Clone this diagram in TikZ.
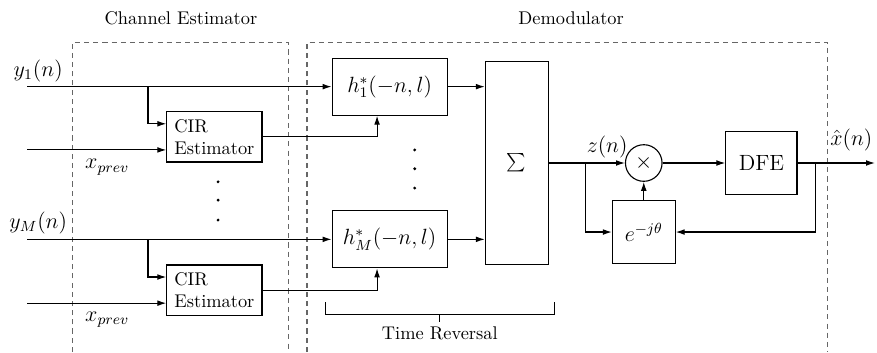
\documentclass[tikz,border=0pt]{standalone}
\usetikzlibrary{arrows.meta}

\begin{document}
\begin{tikzpicture}[>={Latex[length=1.7mm, width=1.1mm]}, line width=0.6pt,
    every node/.style={font=\large},
    block/.style={draw, rectangle, inner sep=0pt},
    frame/.style={draw=black!60, line width=0.7pt, dash pattern=on 2.8pt off 2.2pt},
    caption/.style={font=\normalsize}]

    \useasboundingbox (0,-3.614) rectangle (16.77,3.117);

    % Channel estimator frame
    \draw[frame] (1.38,-3.614) |- (5.51,2.31) -- (5.51,-3.614);
    \node[caption] (chestlbl) at (3.46,2.77) {Channel Estimator};

    % Demodulator frame
    \draw[frame] (5.87,-3.614) |- (15.83,2.31) -- (15.83,-3.614);
    \node[caption] (demodlbl) at (10.92,2.77) {Demodulator};

    % CIR estimators
    \node[block, caption, minimum width=1.82cm, minimum height=0.96cm, align=left, inner xsep=4pt] (cir1) at (4.10,0.50) {CIR\\Estimator};
    \node[block, caption, minimum width=1.82cm, minimum height=0.96cm, align=left, inner xsep=4pt] (cir2) at (4.10,-2.43) {CIR\\Estimator};

    % time reversal filters
    \node[block, minimum width=2.20cm, minimum height=1.09cm] (h1) at (7.45,1.46) {$h_1^*(-n,l)$};
    \node[block, minimum width=2.20cm, minimum height=1.09cm] (hM) at (7.45,-1.46) {$h_M^*(-n,l)$};

    % sum, rotation and equalizer
    \node[block, minimum width=1.20cm, minimum height=3.88cm] (sum) at (9.88,0) {$\sum$};
    \node[circle, draw, minimum size=0.70cm, inner sep=0pt] (mult) at (12.31,0) {$\times$};
    \node[block, minimum size=1.20cm] (rot) at (12.31,-1.32) {$e^{-j\theta}$};
    \node[block, minimum width=1.36cm, minimum height=1.20cm] (dfe) at (14.56,0) {DFE};

    % inputs
    \coordinate (in1) at (0.52,1.46);
    \coordinate (inM) at (0.52,-1.46);
    \coordinate (xp1) at (0.52,0.25);
    \coordinate (xpM) at (0.52,-2.68);
    \coordinate (br1) at (2.83,1.46);
    \coordinate (brM) at (2.83,-1.46);
    \node (y1lbl) at (0.73,1.76) {$y_1(n)$};
    \node (yMlbl) at (0.73,-1.15) {$y_M(n)$};
    \node (xp1lbl) at (2.05,-0.08) {$x_{prev}$};
    \node (xpMlbl) at (2.05,-3.00) {$x_{prev}$};

    % branch 1
    \draw[->] (in1) -- (h1.west);
    \draw[->] (br1) |- ([yshift=0.25cm]cir1.west);
    \draw[->] (xp1) -- (xp1 -| cir1.west);
    \draw[->] (cir1.east) -| ([xshift=-0.24cm]h1.south);
    \draw[->] (h1.east) -- (h1.east -| sum.west);

    % branch M
    \draw[->] (inM) -- (hM.west);
    \draw[->] (brM) |- ([yshift=0.25cm]cir2.west);
    \draw[->] (xpM) -- (xpM -| cir2.west);
    \draw[->] (cir2.east) -| ([xshift=-0.24cm]hM.south);
    \draw[->] (hM.east) -- (hM.east -| sum.west);

    % dots
    \foreach \y in {-0.36,-0.71,-1.09} \fill (4.17,\y) circle (0.03);
    \foreach \y in {0.25,-0.11,-0.48} \fill (7.93,\y) circle (0.03);

    % phase correction and DFE
    \coordinate (zb) at (11.20,0);
    \coordinate (fb) at (15.60,0);
    \coordinate (out) at (16.73,0);
    \node (zlbl) at (11.61,0.31) {$z(n)$};
    \node (xhatlbl) at (16.28,0.44) {$\hat{x}(n)$};
    \draw[->] (sum.east) -- (mult.west);
    \draw[->] (zb) |- (rot.west);
    \draw[->] (rot.north) -- (mult.south);
    \draw[->] (mult.east) -- (dfe.west);
    \draw[->] (dfe.east) -- (out);
    \draw[->] (fb) |- (rot.east);

    % time reversal bracket
    \draw (6.23,-2.66) |- (10.61,-2.89) -- (10.61,-2.66);
    \draw (8.41,-2.89) -- (8.41,-3.04);
    \node[caption] (trevlbl) at (8.41,-3.25) {Time Reversal};

\end{tikzpicture}
\end{document}
